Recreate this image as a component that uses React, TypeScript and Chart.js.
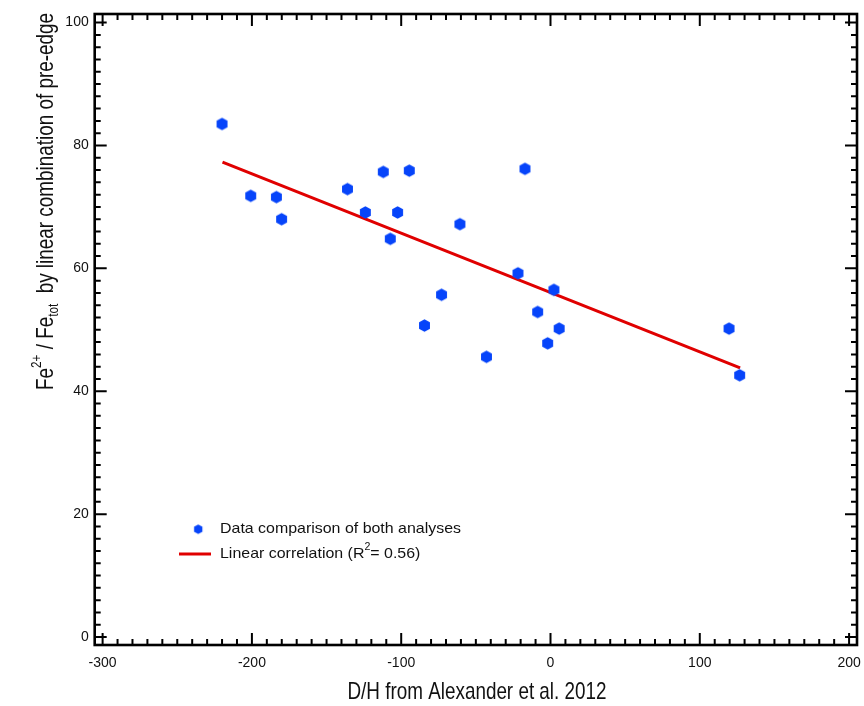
import React, { useEffect, useRef } from 'react';
import { Chart, registerables } from 'chart.js';
Chart.register(...registerables);

// D/H (x) and Fe2+/Fetot (y) for each analysis
const dhValues = [-220.0, -200.8, -183.6, -180.1, -136.0, -124.0, -112.0, -107.3, -102.4, -94.6, -84.4, -73.0, -60.7, -42.9, -21.8, -17.1, -8.6, -1.9, 2.3, 5.8, 119.6, 126.7];
const feValues = [83.5, 71.8, 71.6, 68.0, 72.9, 69.1, 75.7, 64.8, 69.1, 75.9, 50.7, 55.7, 67.2, 45.6, 59.2, 76.2, 52.9, 47.8, 56.5, 50.2, 50.2, 42.6];
// Linear correlation end points
const fitX = [-219.7, 127.0];
const fitY = [77.3, 43.8];
// Tick labels
const xTicks = [-300, -200, -100, 0, 100, 200];
const yTicks = [0, 20, 40, 60, 80, 100];

const FAMILY = "'Liberation Sans', Arial, sans-serif";
const BLUE = '#0644FA';
const RED = '#E00000';

function hexagon(r: number): HTMLCanvasElement {
  const size = Math.ceil(r * 2 + 2);
  const c = document.createElement('canvas');
  c.width = size;
  c.height = size;
  const g = c.getContext('2d')!;
  g.fillStyle = BLUE;
  g.beginPath();
  for (let i = 0; i < 6; i++) {
    const a = -Math.PI / 2 + (i * Math.PI) / 3;
    const px = size / 2 + r * Math.cos(a);
    const py = size / 2 + r * Math.sin(a);
    if (i === 0) g.moveTo(px, py);
    else g.lineTo(px, py);
  }
  g.closePath();
  g.fill();
  return c;
}

type Run = { t: string; size: number; dy?: number };

function measureRuns(ctx: CanvasRenderingContext2D, runs: Run[]) {
  let total = 0;
  const ws: number[] = [];
  for (const r of runs) {
    ctx.font = `${r.size}px ${FAMILY}`;
    const w = ctx.measureText(r.t).width;
    ws.push(w);
    total += w;
  }
  return { total, ws };
}

function drawRuns(ctx: CanvasRenderingContext2D, runs: Run[], sx: number) {
  const { ws } = measureRuns(ctx, runs);
  ctx.scale(sx, 1);
  let x = 0;
  runs.forEach((r, i) => {
    ctx.font = `${r.size}px ${FAMILY}`;
    ctx.fillText(r.t, x, r.dy || 0);
    x += ws[i];
  });
}

const framePlugin = {
  id: 'framePlugin',
  afterDraw(chart: any) {
    const { ctx, chartArea: a, scales } = chart;
    const xs = scales.x;
    const ys = scales.y;
    ctx.save();
    ctx.strokeStyle = '#000';
    ctx.lineWidth = 2;
    ctx.beginPath();
    for (let v = xTicks[0]; v <= xTicks[xTicks.length - 1]; v += 10) {
      const p = xs.getPixelForValue(v);
      const L = v % 100 === 0 ? 12 : 6;
      ctx.moveTo(p, a.bottom);
      ctx.lineTo(p, a.bottom - L);
      ctx.moveTo(p, a.top);
      ctx.lineTo(p, a.top + L);
    }
    for (let v = yTicks[0]; v <= yTicks[yTicks.length - 1]; v += 2) {
      const p = ys.getPixelForValue(v);
      const L = v % 20 === 0 ? 12 : 6;
      ctx.moveTo(a.left, p);
      ctx.lineTo(a.left + L, p);
      ctx.moveTo(a.right, p);
      ctx.lineTo(a.right - L, p);
    }
    ctx.stroke();
    ctx.lineWidth = 2.6;
    ctx.strokeRect(a.left, a.top, a.right - a.left, a.bottom - a.top);

    ctx.fillStyle = '#111';
    // x title
    ctx.save();
    const xRuns: Run[] = [{ t: 'D/H from Alexander et al. 2012', size: 24 }];
    const xm = measureRuns(ctx, xRuns);
    const xw = 259;
    ctx.translate(477 - xw / 2, 699);
    ctx.textBaseline = 'alphabetic';
    drawRuns(ctx, xRuns, xw / xm.total);
    ctx.restore();

    // y title
    ctx.save();
    const S = 24;
    const yRuns: Run[] = [
      { t: 'Fe', size: S },
      { t: '2+', size: S * 0.62, dy: -S * 0.5 },
      { t: ' / Fe', size: S },
      { t: 'tot', size: S * 0.62, dy: S * 0.22 },
      { t: '  by linear combination of pre-edge', size: S },
    ];
    const ym = measureRuns(ctx, yRuns);
    ctx.translate(53, 390);
    ctx.rotate(-Math.PI / 2);
    ctx.textBaseline = 'alphabetic';
    drawRuns(ctx, yRuns, 377 / ym.total);
    ctx.restore();

    // legend
    ctx.save();
    const leg1: Run[] = [{ t: 'Data comparison of both analyses', size: 15 }];
    const lm = measureRuns(ctx, leg1);
    const lsx = 241 / lm.total;
    ctx.drawImage(hexagon(4.8), 198 - 5.8, 529 - 5.8);
    ctx.textBaseline = 'middle';
    ctx.save();
    ctx.translate(220, 529);
    drawRuns(ctx, leg1, lsx);
    ctx.restore();
    ctx.strokeStyle = RED;
    ctx.lineWidth = 3;
    ctx.beginPath();
    ctx.moveTo(179, 554);
    ctx.lineTo(211, 554);
    ctx.stroke();
    const leg2: Run[] = [
      { t: 'Linear correlation (R', size: 15 },
      { t: '2', size: 10, dy: -7 },
      { t: '= 0.56)', size: 15 },
    ];
    ctx.save();
    ctx.translate(220, 554);
    drawRuns(ctx, leg2, lsx);
    ctx.restore();
    ctx.restore();

    ctx.restore();
  },
};

export default function App() {
  const ref = useRef<HTMLCanvasElement>(null);
  useEffect(() => {
    const canvas = ref.current!;
    const marker = hexagon(6.3);
    const chart = new Chart(canvas, {
      type: 'scatter',
      data: {
        datasets: [
          {
            label: 'Data comparison of both analyses',
            data: dhValues.map((x, i) => ({ x, y: feValues[i] })),
            pointStyle: marker as any,
            pointRadius: 6,
            backgroundColor: BLUE,
            borderColor: BLUE,
            order: 1,
          },
          {
            type: 'line' as any,
            label: 'Linear correlation (R²= 0.56)',
            data: fitX.map((x, i) => ({ x, y: fitY[i] })),
            borderColor: RED,
            borderWidth: 3,
            pointRadius: 0,
            showLine: true,
            fill: false,
            order: 2,
          },
        ],
      },
      options: {
        responsive: false,
        animation: false,
        devicePixelRatio: 1,
        layout: { padding: { top: 14, right: 6, left: 0, bottom: 0 } },
        plugins: {
          legend: { display: false },
          tooltip: { enabled: false },
        },
        scales: {
          x: {
            type: 'linear',
            min: -305.3,
            max: 205.3,
            grid: { display: false, drawTicks: false },
            border: { display: false },
            afterBuildTicks: (s: any) => {
              s.ticks = xTicks.map((v) => ({ value: v }));
            },
            afterFit: (s: any) => {
              s.height = 61;
              s.paddingLeft = 0;
              s.paddingRight = 0;
            },
            ticks: {
              padding: 10,
              color: '#111',
              font: { family: FAMILY, size: 14 },
              maxRotation: 0,
              autoSkip: false,
            },
          },
          y: {
            type: 'linear',
            min: -1.3,
            max: 101.4,
            grid: { display: false, drawTicks: false },
            border: { display: false },
            afterBuildTicks: (s: any) => {
              s.ticks = yTicks.map((v) => ({ value: v }));
            },
            afterFit: (s: any) => {
              s.width = 94.7;
              s.paddingTop = 0;
              s.paddingBottom = 0;
            },
            ticks: {
              padding: 6,
              color: '#111',
              font: { family: FAMILY, size: 14 },
              autoSkip: false,
            },
          },
        },
      },
      plugins: [framePlugin],
    });
    return () => chart.destroy();
  }, []);
  return (
    <div style={{ position: 'absolute', left: 0, top: 0, width: 864, height: 706, background: '#fff' }}>
      <canvas ref={ref} width={864} height={706} style={{ display: 'block', width: 864, height: 706 }} />
    </div>
  );
}
